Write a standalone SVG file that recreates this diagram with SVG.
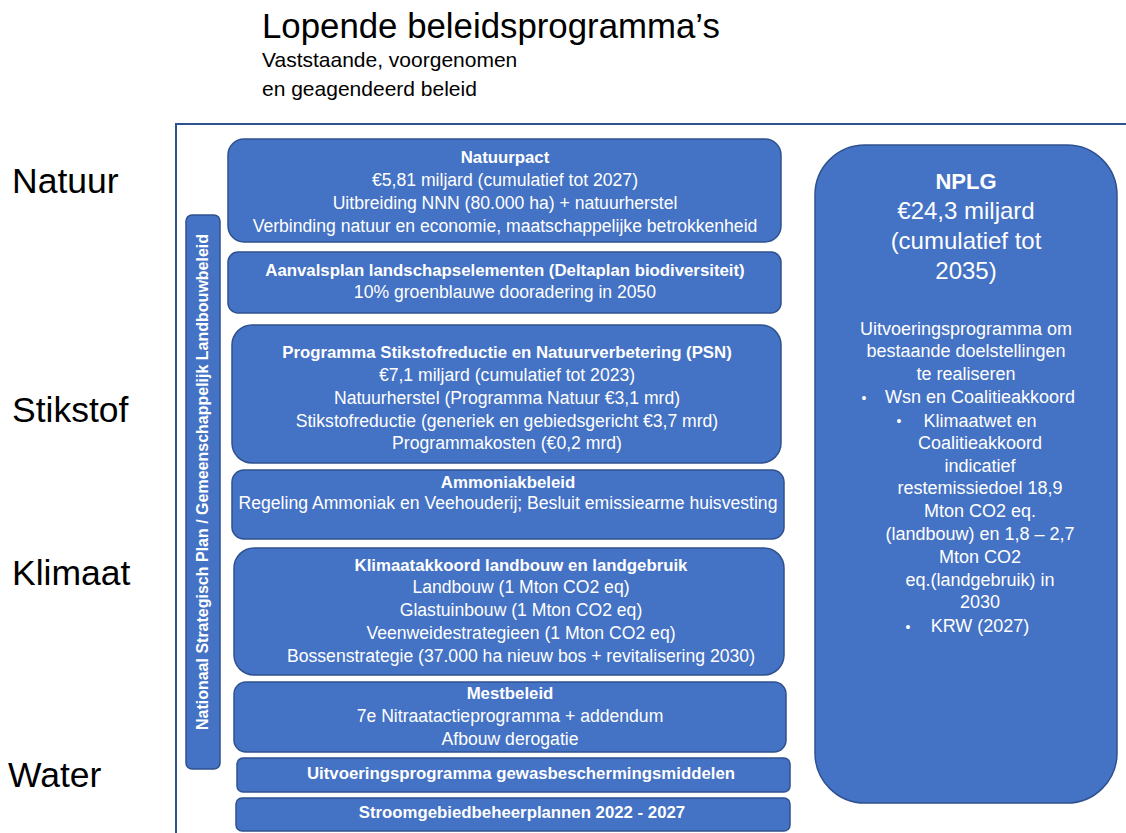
<svg xmlns="http://www.w3.org/2000/svg" width="1126" height="833" viewBox="0 0 1126 833">
<style>
.box{fill:#4472C4;stroke:#2F528F;stroke-width:1.5}
.t{font-family:"Liberation Sans",Arial,sans-serif;fill:#fff;font-size:17.6px;text-anchor:middle}
.b{font-weight:bold;font-size:16.8px}
.v{font-weight:bold;font-size:16px}
.n{font-size:18px}
.big{font-size:24px}
.k{font-family:"Liberation Sans",Arial,sans-serif;fill:#000}
.lab{font-size:35.5px}
.frame{stroke:#2F528F;stroke-width:2;fill:none}
</style>
<rect width="1126" height="833" fill="#fff"/>
<g id="header">
<text class="k" x="262" y="38" style="font-size:34.8px">Lopende beleidsprogramma’s</text>
<text class="k" x="262" y="67" style="font-size:21px">Vaststaande, voorgenomen</text>
<text class="k" x="262" y="96" style="font-size:21px">en geagendeerd beleid</text>
</g>
<g id="row-labels">
<text class="k lab" x="12" y="193">Natuur</text>
<text class="k lab" x="12" y="422">Stikstof</text>
<text class="k lab" x="12" y="585">Klimaat</text>
<text class="k lab" x="8" y="787">Water</text>
</g>
<g id="connectors">
<path class="frame" d="M176,833 V124 H1126"/>
</g>
<g id="nsp">
<rect class="box" x="186" y="215" width="34" height="554" rx="6"/>
<text class="t v" transform="translate(208,482) rotate(-90)">Nationaal Strategisch Plan / Gemeenschappelijk Landbouwbeleid</text>
</g>
<g id="natuurpact">
<rect class="box" x="228" y="139" width="553" height="103" rx="16"/>
<text class="t b" x="505" y="163">Natuurpact</text>
<text class="t" x="505" y="186">€5,81 miljard (cumulatief tot 2027)</text>
<text class="t" x="505" y="209">Uitbreiding NNN (80.000 ha) + natuurherstel</text>
<text class="t" x="505" y="232">Verbinding natuur en economie, maatschappelijke betrokkenheid</text>
</g>
<g id="aanvalsplan">
<rect class="box" x="228" y="252" width="553" height="61" rx="10"/>
<text class="t b" x="505" y="276">Aanvalsplan landschapselementen (Deltaplan biodiversiteit)</text>
<text class="t" x="505" y="298">10% groenblauwe dooradering in 2050</text>
</g>
<g id="psn">
<rect class="box" x="232" y="325" width="549" height="138" rx="20"/>
<text class="t b" x="507" y="358">Programma Stikstofreductie en Natuurverbetering (PSN)</text>
<text class="t" x="507" y="381">€7,1 miljard (cumulatief tot 2023)</text>
<text class="t" x="507" y="404">Natuurherstel (Programma Natuur €3,1 mrd)</text>
<text class="t" x="507" y="427">Stikstofreductie (generiek en gebiedsgericht €3,7 mrd)</text>
<text class="t" x="507" y="449">Programmakosten (€0,2 mrd)</text>
</g>
<g id="ammoniak">
<rect class="box" x="232" y="470" width="552" height="69" rx="12"/>
<text class="t b" x="508" y="488">Ammoniakbeleid</text>
<text class="t" x="508" y="509">Regeling  Ammoniak en Veehouderij; Besluit emissiearme huisvesting</text>
</g>
<g id="klimaat">
<rect class="box" x="234" y="548" width="550" height="127" rx="20"/>
<text class="t b" x="521" y="571">Klimaatakkoord landbouw en landgebruik</text>
<text class="t" x="521" y="593">Landbouw (1 Mton CO2 eq)</text>
<text class="t" x="521" y="616">Glastuinbouw (1 Mton CO2 eq)</text>
<text class="t" x="521" y="639">Veenweidestrategieen (1 Mton CO2 eq)</text>
<text class="t" x="521" y="662">Bossenstrategie (37.000 ha nieuw bos + revitalisering 2030)</text>
</g>
<g id="mest">
<rect class="box" x="234" y="682" width="552" height="70" rx="12"/>
<text class="t b" x="510" y="699">Mestbeleid</text>
<text class="t" x="510" y="722">7e Nitraatactieprogramma + addendum</text>
<text class="t" x="510" y="745">Afbouw derogatie</text>
</g>
<g id="gewasbescherming">
<rect class="box" x="237" y="758" width="553" height="34" rx="6"/>
<text class="t b" x="521" y="779">Uitvoeringsprogramma gewasbeschermingsmiddelen</text>
</g>
<g id="stroomgebied">
<rect class="box" x="236" y="798" width="554" height="33" rx="6"/>
<text class="t b" x="522" y="818">Stroomgebiedbeheerplannen 2022 - 2027</text>
</g>
<g id="nplg">
<rect class="box" x="815" y="145" width="302" height="658" rx="50"/>
<text class="t big" x="966" y="189" style="font-weight:bold;font-size:22px">NPLG</text>
<text class="t big" x="966" y="219">€24,3 miljard</text>
<text class="t big" x="966" y="249">(cumulatief tot</text>
<text class="t big" x="966" y="279">2035)</text>
<text class="t n" x="966" y="335">Uitvoeringsprogramma om</text>
<text class="t n" x="966" y="357">bestaande doelstellingen</text>
<text class="t n" x="966" y="380">te realiseren</text>
<text class="t" x="864" y="403" style="font-size:14px">•</text>
<text class="t n" x="980" y="403">Wsn en Coalitieakkoord</text>
<text class="t" x="899" y="426" style="font-size:14px">•</text>
<text class="t n" x="980" y="427">Klimaatwet en</text>
<text class="t n" x="980" y="449">Coalitieakkoord</text>
<text class="t n" x="980" y="472">indicatief</text>
<text class="t n" x="980" y="494">restemissiedoel 18,9</text>
<text class="t n" x="980" y="517">Mton CO2 eq.</text>
<text class="t n" x="980" y="540">(landbouw) en 1,8 – 2,7</text>
<text class="t n" x="980" y="563">Mton CO2</text>
<text class="t n" x="980" y="586">eq.(landgebruik) in</text>
<text class="t n" x="980" y="608">2030</text>
<text class="t" x="908" y="632" style="font-size:14px">•</text>
<text class="t n" x="980" y="632">KRW (2027)</text>
</g>
</svg>
